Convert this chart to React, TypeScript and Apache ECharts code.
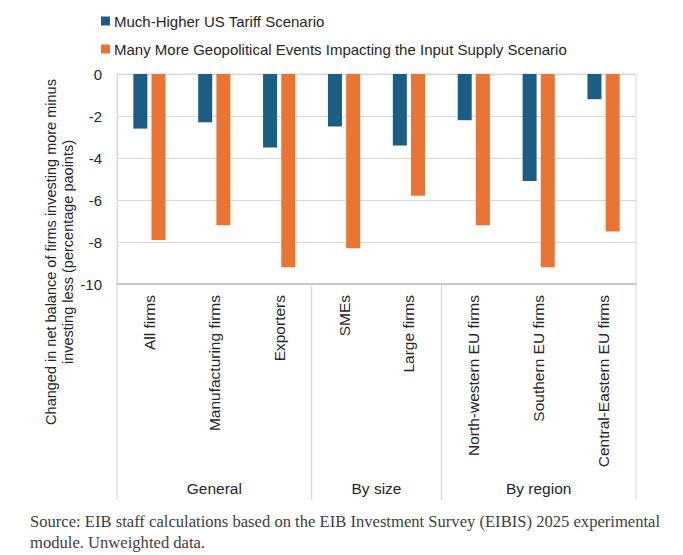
import React, { useEffect, useRef } from "react";
import * as echarts from "echarts";

const categories = [
  "All firms",
  "Manufacturing firms",
  "Exporters",
  "SMEs",
  "Large firms",
  "North-western EU firms",
  "Southern EU firms",
  "Central-Eastern EU firms",
];
const tariffValues = [-2.6, -2.3, -3.5, -2.5, -3.4, -2.2, -5.1, -1.2];
const geoValues = [-7.9, -7.2, -9.2, -8.3, -5.8, -7.2, -9.2, -7.5];
const seriesNames = [
  "Much-Higher US Tariff Scenario",
  "Many More Geopolitical Events Impacting the Input Supply Scenario",
];
const groupNames = ["General", "By size", "By region"];
const groupRanges = [
  [0, 2],
  [3, 4],
  [5, 7],
];
const yMin = -10;
const yMax = 0;
const yInterval = 2;
const yAxisName =
  "Changed in net balance of firms investing more minus\ninvesting less (percentage paoints)";
const sourceText =
  "Source: EIB staff calculations based on the EIB Investment Survey (EIBIS) 2025 experimental\nmodule. Unweighted data.";

const SANS = "'Liberation Sans', Arial, sans-serif";
const SERIF = "'Liberation Serif', 'DejaVu Serif', serif";

export default function App() {
  const ref = useRef<HTMLDivElement>(null);

  useEffect(() => {
    document.body.style.margin = "0";
    if (!ref.current) return;
    const chart = echarts.init(ref.current, null, { renderer: "svg" });

    const option: any = {
      animation: false,
      backgroundColor: "#ffffff",
      title: {
        text: sourceText,
        left: 25,
        top: 506,
        textStyle: {
          fontFamily: SERIF,
          fontSize: 16.6,
          fontWeight: "normal",
          color: "#404040",
          lineHeight: 21,
        },
      },
      legend: {
        orient: "vertical",
        left: 96,
        top: 7,
        itemWidth: 9,
        itemHeight: 9,
        itemGap: 10,
        icon: "rect",
        data: seriesNames,
        textStyle: {
          fontFamily: SANS,
          fontSize: 15,
          color: "#262626",
          lineHeight: 18,
          padding: [0, 0, 0, -1],
        },
      },
      grid: {
        left: 117,
        right: 47,
        top: 74,
        bottom: 271,
        show: true,
        borderColor: "#d9d9d9",
        borderWidth: 1,
        containLabel: false,
        outerBoundsMode: "none",
      },
      xAxis: {
        type: "category",
        data: categories,
        position: "bottom",
        axisLine: { show: true, onZero: false, lineStyle: { color: "#bfbfbf", width: 1.5 } },
        axisTick: { show: false },
        splitLine: { show: false },
        axisLabel: {
          interval: 0,
          rotate: 90,
          margin: 11,
          fontFamily: SANS,
          fontSize: 15.5,
          color: "#262626",
        },
      },
      yAxis: {
        type: "value",
        min: yMin,
        max: yMax,
        interval: yInterval,
        name: yAxisName,
        nameLocation: "middle",
        nameRotate: 90,
        nameGap: 41,
        nameMoveOverlap: false,
        nameTextStyle: {
          fontFamily: SANS,
          fontSize: 14.5,
          color: "#262626",
          lineHeight: 17,
          padding: [0, 146, 0, 0],
        },
        axisLine: { show: true, lineStyle: { color: "#d9d9d9" } },
        axisTick: { show: false },
        splitLine: { show: true, lineStyle: { color: "#d9d9d9", width: 1 } },
        axisLabel: {
          margin: 15,
          fontFamily: SANS,
          fontSize: 15,
          color: "#262626",
        },
      },
      series: [
        {
          name: seriesNames[0],
          type: "bar",
          data: tariffValues,
          barWidth: 14,
          barGap: "30%",
          itemStyle: { color: "#1B5E83" },
        },
        {
          name: seriesNames[1],
          type: "bar",
          data: geoValues,
          barWidth: 14,
          barGap: "30%",
          itemStyle: { color: "#EC7432" },
        },
        {
          type: "custom",
          name: "groups",
          data: groupRanges,
          encode: { x: [0, 1] },
          clip: false,
          silent: true,
          z: 5,
          renderItem: (params: any, api: any) => {
            const s = api.value(0);
            const e = api.value(1);
            const band = api.size([1, 0])[0];
            const ps = api.coord([s, yMin]);
            const pe = api.coord([e, yMin]);
            const xs = ps[0] - band / 2;
            const xe = pe[0] + band / 2;
            const yb = ps[1];
            const lineStyle = { stroke: "#d9d9d9", lineWidth: 1 };
            return {
              type: "group",
              children: [
                { type: "line", shape: { x1: xs, y1: yb, x2: xs, y2: yb + 216 }, style: lineStyle },
                { type: "line", shape: { x1: xe, y1: yb, x2: xe, y2: yb + 216 }, style: lineStyle },
                {
                  type: "text",
                  style: {
                    text: groupNames[params.dataIndex],
                    x: (xs + xe) / 2,
                    y: yb + 204,
                    align: "center",
                    verticalAlign: "middle",
                    fontFamily: SANS,
                    fontSize: 15.5,
                    fill: "#262626",
                  },
                },
              ],
            };
          },
        },
      ],
    };

    chart.setOption(option);
    return () => {
      chart.dispose();
    };
  }, []);

  return <div ref={ref} style={{ width: 683, height: 555 }} />;
}
